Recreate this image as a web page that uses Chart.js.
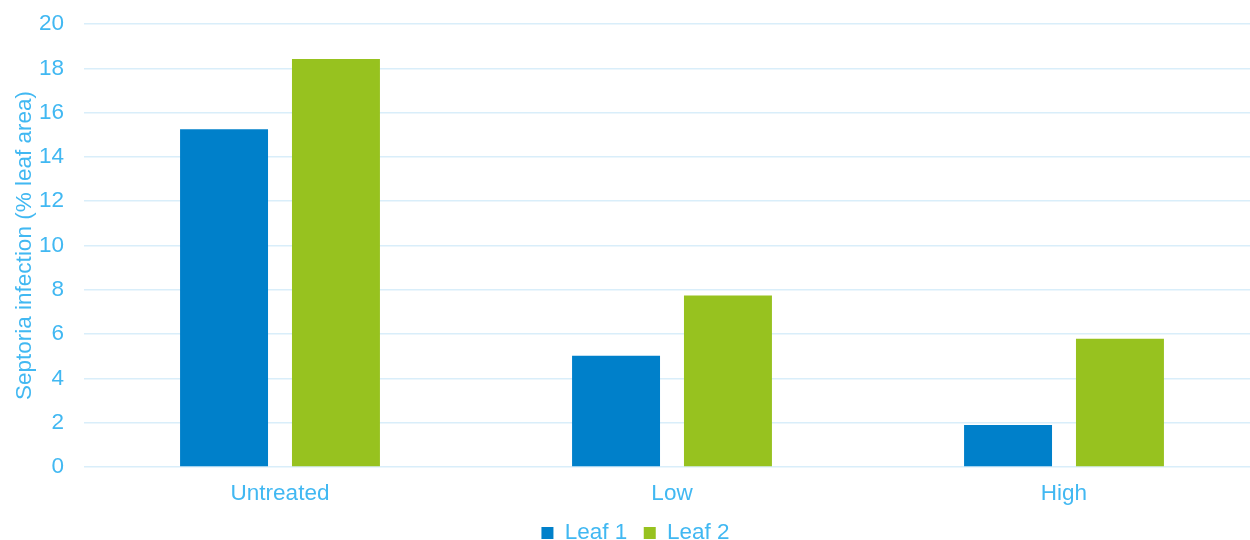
<!DOCTYPE html>
<html>
<head>
<meta charset="utf-8">
<script src="https://cdn.jsdelivr.net/npm/chart.js@4/dist/chart.umd.min.js"></script>
<style>
  html, body { margin: 0; padding: 0; background: #fff; overflow: hidden; }
  #wrap { width: 1260px; height: 540px; }
</style>
</head>
<body>
<div id="wrap"><canvas id="myChart"></canvas></div>
<script>
// Chart data
const categories = ['Untreated', 'Low', 'High'];
const leaf1 = [15.25, 5.02, 1.9];
const leaf2 = [18.42, 7.74, 5.79];
const yTicks = [0, 2, 4, 6, 8, 10, 12, 14, 16, 18, 20];

const textColor = '#41B8F2';
const font = { family: 'Arial, "Liberation Sans", sans-serif', size: 22.5 };
const tightFont = { family: font.family, size: 22.5, lineHeight: 1 };

const ctx = document.getElementById('myChart').getContext('2d');
new Chart(ctx, {
    type: 'bar',
    data: {
        labels: categories,
        datasets: [
            {
                label: 'Leaf 1',
                data: leaf1,
                backgroundColor: '#0080CA',
                borderWidth: 0,
                categoryPercentage: 0.571,
                barPercentage: 0.786
            },
            {
                label: 'Leaf 2',
                data: leaf2,
                backgroundColor: '#97C21F',
                borderWidth: 0,
                categoryPercentage: 0.571,
                barPercentage: 0.786
            }
        ]
    },
    options: {
        responsive: true,
        maintainAspectRatio: false,
        animation: false,
        layout: { padding: { top: 0, right: 0, left: 11, bottom: -14.25 } },
        plugins: {
            tooltip: { enabled: false },
            legend: {
                position: 'bottom',
                labels: {
                    color: textColor,
                    font: tightFont,
                    boxWidth: 12,
                    boxHeight: 12,
                    padding: 16.5
                }
            }
        },
        scales: {
            x: {
                grid: { display: false, tickLength: 15.75 },
                border: { display: false },
                ticks: { color: textColor, font: tightFont, padding: 0 }
            },
            y: {
                min: 0,
                max: 20,
                afterBuildTicks: axis => { axis.ticks = yTicks.map(v => ({ value: v })); },
                afterFit: axis => { axis.width = 73; },
                grid: {
                    color: '#D9EEFA',
                    lineWidth: 1.5,
                    drawTicks: true,
                    tickLength: 9.5,
                    tickColor: 'rgba(0,0,0,0)'
                },
                border: { display: false },
                ticks: { color: textColor, font: font, padding: 10.5 },
                title: {
                    display: true,
                    text: 'Septoria infection (% leaf area)',
                    color: textColor,
                    font: font,
                    padding: 0
                }
            }
        }
    }
});
</script>
</body>
</html>
